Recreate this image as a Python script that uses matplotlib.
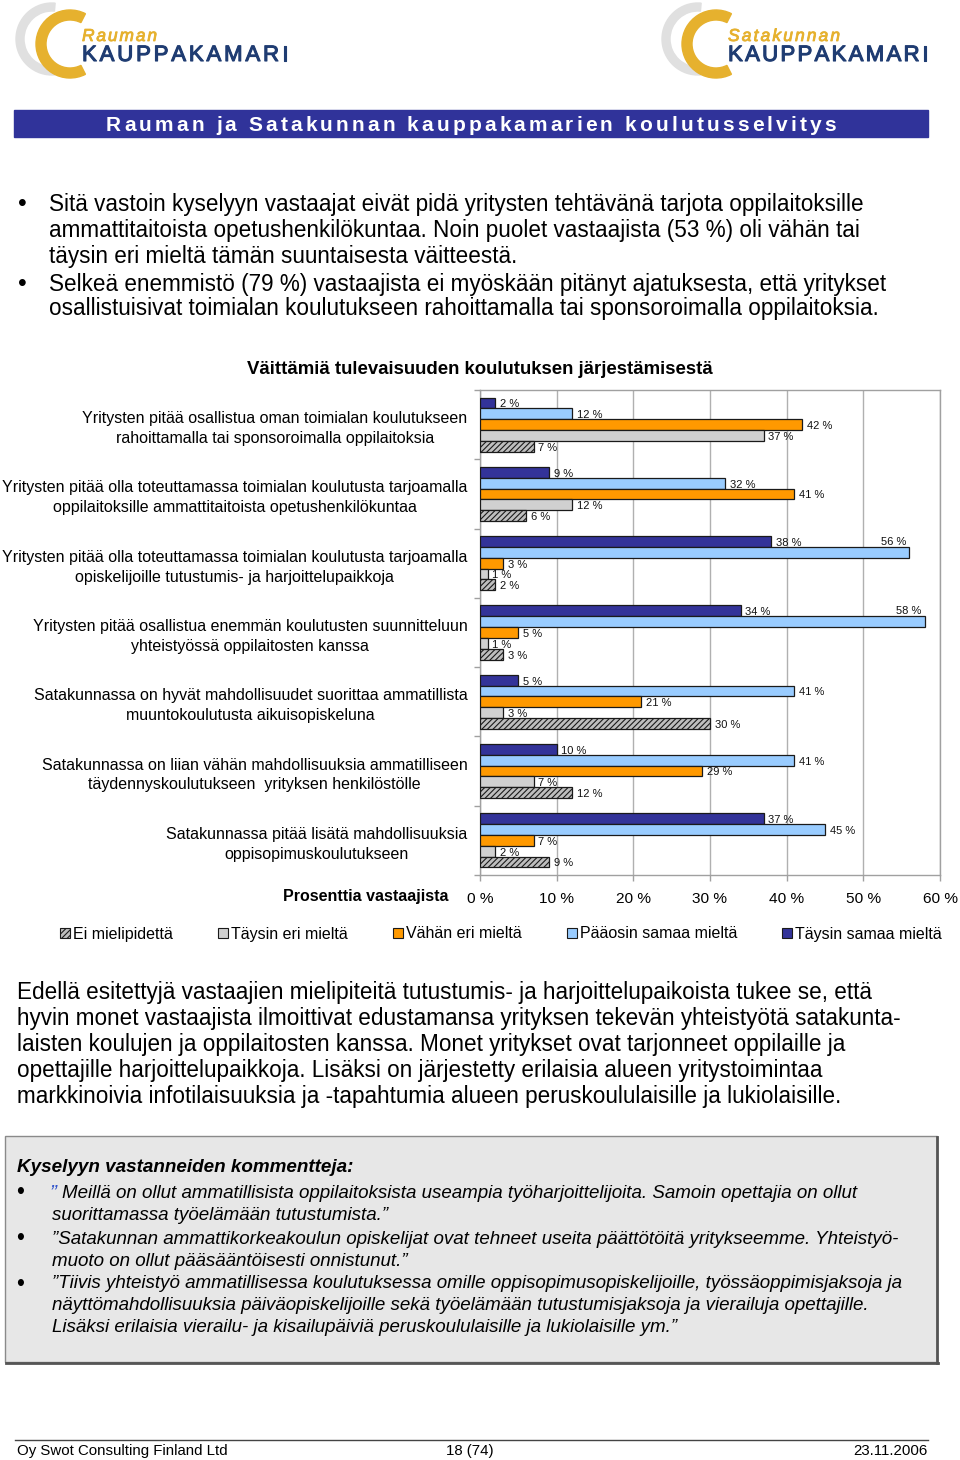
import matplotlib
matplotlib.use("Agg")
import matplotlib.pyplot as plt
import matplotlib.patheffects as pe
import numpy as np
from matplotlib.patches import Rectangle, Wedge, Patch
from matplotlib.font_manager import FontProperties

plt.rcParams['font.family'] = ['Liberation Sans', 'DejaVu Sans']
plt.rcParams['hatch.linewidth'] = 0.8

# ---------------- data ----------------
categories = [
    "Yritysten pitää osallistua oman toimialan koulutukseen\nrahoittamalla tai sponsoroimalla oppilaitoksia",
    "Yritysten pitää olla toteuttamassa toimialan koulutusta tarjoamalla\noppilaitoksille ammattitaitoista opetushenkilökuntaa",
    "Yritysten pitää olla toteuttamassa toimialan koulutusta tarjoamalla\nopiskelijoille tutustumis- ja harjoittelupaikkoja",
    "Yritysten pitää osallistua enemmän koulutusten suunnitteluun\nyhteistyössä oppilaitosten kanssa",
    "Satakunnassa on hyvät mahdollisuudet suorittaa ammatillista\nmuuntokoulutusta aikuisopiskeluna",
    "Satakunnassa on liian vähän mahdollisuuksia ammatilliseen\ntäydennyskoulutukseen  yrityksen henkilöstölle",
    "Satakunnassa pitää lisätä mahdollisuuksia\noppisopimuskoulutukseen",
]
taysin_samaa = [2, 9, 38, 34, 5, 10, 37]
paaosin_samaa = [12, 32, 56, 58, 41, 41, 45]
vahan_eri = [42, 41, 3, 5, 21, 29, 7]
taysin_eri = [37, 12, 1, 1, 3, 7, 2]
ei_mielipidetta = [7, 6, 2, 3, 30, 12, 9]
series_names = ["Täysin samaa mieltä", "Pääosin samaa mieltä", "Vähän eri mieltä",
                "Täysin eri mieltä", "Ei mielipidettä"]
x_ticks = [0, 10, 20, 30, 40, 50, 60]
x_ticklabels = ["0 %", "10 %", "20 %", "30 %", "40 %", "50 %", "60 %"]

chart_title = "Väittämiä tulevaisuuden koulutuksen järjestämisestä"
x_label = "Prosenttia vastaajista"

# ---------------- page ----------------
W, H = 960, 1460
fig = plt.figure(figsize=(9.6, 14.6), dpi=100)
doc = fig.add_axes([0, 0, 1, 1])
doc.set_xlim(0, W)
doc.set_ylim(H, 0)
doc.axis('off')
r = fig.canvas.get_renderer()


def size_for(s, width, **kw):
    t = doc.text(0, 0, s, fontsize=10, **kw)
    w = t.get_window_extent(renderer=r).width
    t.remove()
    return 10 * width / w


def fit(x, y, s, width, ha='left', va='center', **kw):
    fs = size_for(s, width, **kw)
    return doc.text(x, y, s, fontsize=fs, ha=ha, va=va, **kw), fs


def spaced(x0, x1, y, s, size, color, weight='normal', style='normal', stroke=0):
    prop = FontProperties(family=['Liberation Sans', 'DejaVu Sans'], size=size,
                          weight=weight, style=style)
    base = r.get_text_width_height_descent("||", prop, ismath=False)[0]
    widths = [r.get_text_width_height_descent("|" + c + "|", prop, ismath=False)[0] - base
              for c in s]
    extra = ((x1 - x0) - sum(widths)) / (len(s) - 1)
    effects = [pe.withStroke(linewidth=stroke, foreground=color)] if stroke else None
    x = x0
    for c, w in zip(s, widths):
        doc.text(x, y, c, fontproperties=prop, color=color, ha='left', va='baseline',
                 path_effects=effects)
        x += w + extra


# ---- logos ----
gold = '#E6B12E'
navy_logo = '#1F3C72'
for cx_gray, cx_gold, x_t0, x_t1, word, x_k1 in [
        (52, 70, 82, 157, "Rauman", 288),
        (698, 716, 728, 840, "Satakunnan", 928)]:
    doc.add_patch(Wedge((cx_gray, 39), 36, 85, 275, width=8, color='#E0E0E0', zorder=1))
    doc.add_patch(Wedge((cx_gold, 44), 34, 63, 297, width=10, color=gold, zorder=2))
    spaced(x_t0, x_t1, 41, word, 12.5, gold, style='italic', stroke=0.6)
    spaced(x_t0, x_k1, 61, "KAUPPAKAMARI", 16, navy_logo, stroke=0.8)

# ---- title bar ----
doc.add_patch(Rectangle((14, 110), 914, 27, color='#30339A', zorder=1))
spaced(106, 836, 131, "Rauman ja Satakunnan kauppakamarien koulutusselvitys", 15,
       'white', weight='bold')

# ---- bullet text ----
bl = [
    (204, "Sitä vastoin kyselyyn vastaajat eivät pidä yritysten tehtävänä tarjota oppilaitoksille", True),
    (230, "ammattitaitoista opetushenkilökuntaa. Noin puolet vastaajista (53 %) oli vähän tai", False),
    (256, "täysin eri mieltä tämän suuntaisesta väitteestä.", False),
    (284, "Selkeä enemmistö (79 %) vastaajista ei myöskään pitänyt ajatuksesta, että yritykset", True),
    (309, "osallistuisivat toimialan koulutukseen rahoittamalla tai sponsoroimalla oppilaitoksia.", False),
]
fs_b = size_for(bl[0][1], 816)
for y, s, bullet in bl:
    doc.text(49, y, s, fontsize=fs_b, va='center', ha='left')
    if bullet:
        doc.text(22, y, "•", fontsize=fs_b * 1.1, va='center', ha='center')

# ---- chart title ----
fit(479.5, 369, chart_title, 469, ha='center', weight='bold')

# ---- chart ----
ax = fig.add_axes([480 / W, 1 - 875 / H, 460 / W, 485 / H])
ypos = np.arange(len(categories))
h = 0.156
series = [
    (taysin_samaa, '#333399', None),
    (paaosin_samaa, '#99CCFF', None),
    (vahan_eri, '#FF9900', None),
    (taysin_eri, '#D0D0D0', None),
    (ei_mielipidetta, '#BEBEBE', '//////'),
]
handles = {}
fs_val = 8
for k, ((vals, col, hatch), name) in enumerate(zip(series, series_names)):
    yy = ypos + (k - 2) * h
    ax.barh(yy, vals, height=h, color=col, edgecolor='#1A1A1A', linewidth=0.9,
            hatch=hatch, zorder=3)
    handles[name] = Patch(facecolor=col, edgecolor='#1A1A1A', hatch=hatch, linewidth=0.8)
    for yv, v in zip(yy, vals):
        if v >= 50:
            ax.text(v - 0.4, yv - h, f"{v} %", ha='right', va='center', fontsize=fs_val,
                    color='#111111', zorder=4)
        else:
            ax.text(v + 0.6, yv + 0.02, f"{v} %", ha='left', va='center', fontsize=fs_val,
                    color='#111111', zorder=4)

ax.set_xlim(0, 60)
ax.set_ylim(len(categories) - 0.5, -0.5)
ax.xaxis.grid(True, color='#B0B0B0', linewidth=1, zorder=0)
ax.set_axisbelow(True)
for sp in ax.spines.values():
    sp.set_color('#A0A0A0')
    sp.set_linewidth(1)

fs_cat = size_for("Yritysten pitää osallistua oman toimialan koulutukseen", 385)
ax.set_yticks(ypos)
ax.set_yticklabels(categories, fontsize=fs_cat, linespacing=1.4)
for lbl in ax.get_yticklabels():
    lbl.set_multialignment('center')
ax.tick_params(axis='y', which='major', length=0, pad=9)
ax.set_yticks(np.arange(-0.5, len(categories) + 0.5, 1), minor=True)
ax.tick_params(axis='y', which='minor', length=4, color='#A0A0A0', width=1)

fs_tick = size_for("10 %", 35)
ax.set_xticks(x_ticks)
ax.set_xticklabels(x_ticklabels, fontsize=fs_tick)
ax.tick_params(axis='x', length=4, color='#A0A0A0', width=1, pad=8)

fit(283, 896, x_label, 164, ha='left', weight='bold')

# ---- legend ----
order = ["Ei mielipidettä", "Täysin eri mieltä", "Vähän eri mieltä",
         "Pääosin samaa mieltä", "Täysin samaa mieltä"]
fs_leg = size_for("Täysin samaa mieltä", 147)
px = fs_leg * 100 / 72
fig.legend([handles[n] for n in order], order, ncol=5, loc='center',
           bbox_to_anchor=(501 / W, 1 - 934 / H), frameon=False, fontsize=fs_leg,
           handlelength=10 / px, handleheight=10 / px, handletextpad=3 / px,
           columnspacing=45 / px, borderpad=0, borderaxespad=0)

# ---- paragraph ----
para = [
    "Edellä esitettyjä vastaajien mielipiteitä tutustumis- ja harjoittelupaikoista tukee se, että",
    "hyvin monet vastaajista ilmoittivat edustamansa yrityksen tekevän yhteistyötä satakunta-",
    "laisten koulujen ja oppilaitosten kanssa. Monet yritykset ovat tarjonneet oppilaille ja",
    "opettajille harjoittelupaikkoja. Lisäksi on järjestetty erilaisia alueen yritystoimintaa",
    "markkinoivia infotilaisuuksia ja -tapahtumia alueen peruskoululaisille ja lukiolaisille.",
]
fs_p = size_for(para[0], 856)
for i, s in enumerate(para):
    doc.text(17, 992 + 26 * i, s, fontsize=fs_p, va='center', ha='left')

# ---- comment box ----
doc.add_patch(Rectangle((5, 1136), 932, 226, facecolor='#E7E7E7', edgecolor='#8A8A8A',
                        linewidth=1, zorder=1))
doc.plot([937, 937], [1137, 1363], color='#555555', linewidth=2, zorder=2)
doc.plot([6, 938], [1363, 1363], color='#555555', linewidth=2, zorder=2)
fit(17, 1168, "Kyselyyn vastanneiden kommentteja:", 337, weight='bold', style='italic')
com = [
    (1193, "Meillä on ollut ammatillisista oppilaitoksista useampia työharjoittelijoita. Samoin opettajia on ollut", True, 62),
    (1215, "suorittamassa työelämään tutustumista.”", False, 52),
    (1239, "”Satakunnan ammattikorkeakoulun opiskelijat ovat tehneet useita päättötöitä yritykseemme. Yhteistyö-", True, 52),
    (1261, "muoto on ollut pääsääntöisesti onnistunut.”", False, 52),
    (1284, "”Tiivis yhteistyö ammatillisessa koulutuksessa omille oppisopimusopiskelijoille, työssäoppimisjaksoja ja", True, 52),
    (1306, "näyttömahdollisuuksia päiväopiskelijoille sekä työelämään tutustumisjaksoja ja vierailuja opettajille.", False, 52),
    (1328, "Lisäksi erilaisia vierailu- ja kisailupäiviä peruskoululaisille ja lukiolaisille ym.”", False, 52),
]
fs_c = size_for(com[4][1], 857, style='italic')
for y, s, bullet, x in com:
    doc.text(x, y, s, fontsize=fs_c, style='italic', va='center', ha='left', zorder=3)
    if bullet:
        doc.text(20, y, "•", fontsize=fs_c * 1.2, va='center', ha='center', zorder=3)
doc.text(50, 1193, "”", fontsize=fs_c * 1.1, style='italic', color='#3355CC', va='center',
         ha='left', zorder=3)

# ---- footer ----
doc.plot([15, 928], [1440, 1440], color='#444444', linewidth=1)
fs_f = size_for("Oy Swot Consulting Finland Ltd", 211)
doc.text(17, 1451, "Oy Swot Consulting Finland Ltd", fontsize=fs_f, va='center', ha='left')
doc.text(470, 1451, "18 (74)", fontsize=fs_f, va='center', ha='center')
doc.text(927, 1451, "23.11.2006", fontsize=fs_f, va='center', ha='right')

fig.savefig("out.png", dpi=100)
